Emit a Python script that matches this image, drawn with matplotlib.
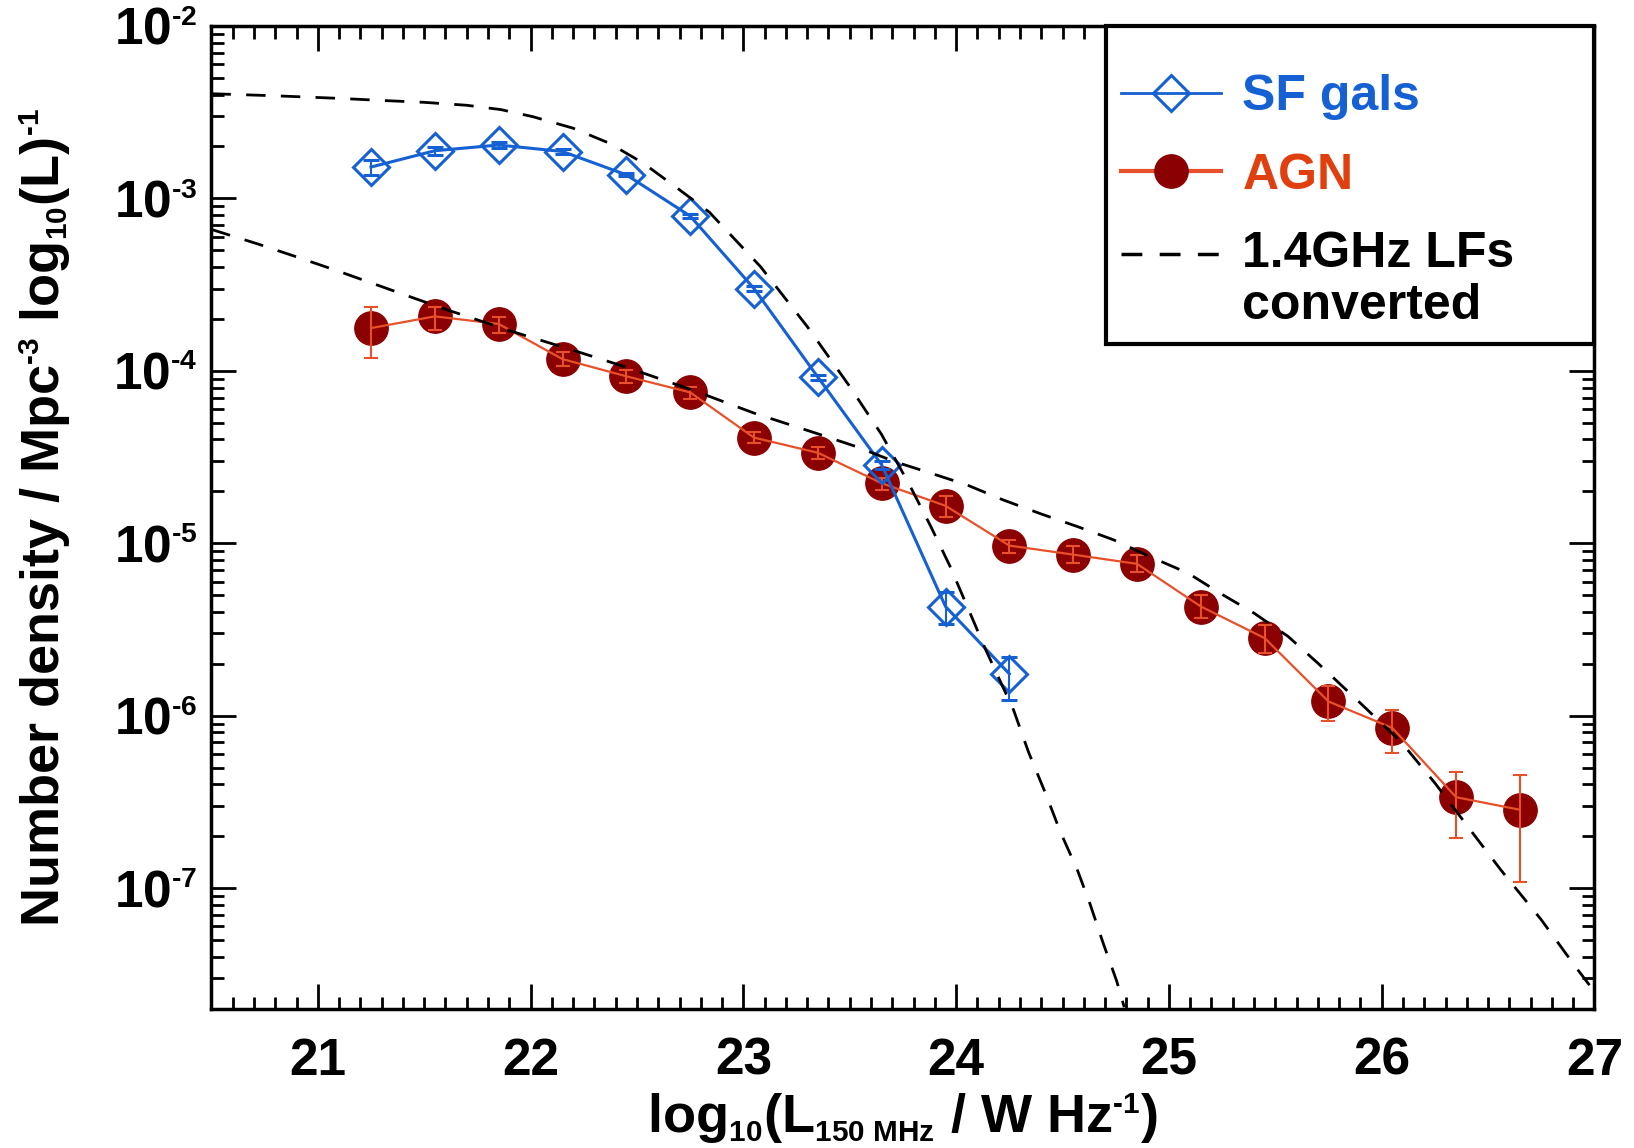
import matplotlib
matplotlib.use("Agg")
import matplotlib.pyplot as plt
import matplotlib._mathtext as mt
import numpy as np
from matplotlib.lines import Line2D
from matplotlib.ticker import MultipleLocator, LogLocator, FuncFormatter, NullFormatter

# smaller super/subscripts, closer to the IDL look
mt.SHRINK_FACTOR = 0.55

plt.rcParams["font.family"] = "Liberation Sans"
plt.rcParams["font.weight"] = "bold"
plt.rcParams["axes.labelweight"] = "bold"
plt.rcParams["mathtext.fontset"] = "custom"
for k in ("rm", "it", "bf", "sf"):
    plt.rcParams["mathtext." + k] = "Liberation Sans:bold"
plt.rcParams["mathtext.default"] = "rm"

# star-forming galaxies
sf_x = [21.25, 21.55, 21.85, 22.15, 22.45, 22.75, 23.05, 23.35, 23.65, 23.95, 24.25]
sf_phi = [1.52e-3, 1.89e-3, 2.04e-3, 1.87e-3, 1.37e-3, 7.9e-4, 3.0e-4, 9.2e-5, 2.85e-5, 4.3e-6, 1.75e-6]
sf_lo = [1.37e-3, 1.79e-3, 1.97e-3, 1.81e-3, 1.34e-3, 7.7e-4, 2.9e-4, 8.9e-5, 2.7e-5, 3.4e-6, 1.24e-6]
sf_hi = [1.67e-3, 1.99e-3, 2.11e-3, 1.93e-3, 1.40e-3, 8.1e-4, 3.1e-4, 9.5e-5, 3.0e-5, 5.2e-6, 2.19e-6]

# radio-loud AGN
agn_x = [21.25, 21.55, 21.85, 22.15, 22.45, 22.75, 23.05, 23.35, 23.65, 23.95,
         24.25, 24.55, 24.85, 25.15, 25.45, 25.75, 26.05, 26.35, 26.65]
agn_phi = [1.77e-4, 2.07e-4, 1.87e-4, 1.17e-4, 9.3e-5, 7.5e-5, 4.1e-5, 3.35e-5, 2.23e-5, 1.65e-5,
           9.7e-6, 8.6e-6, 7.6e-6, 4.3e-6, 2.82e-6, 1.21e-6, 8.5e-7, 3.37e-7, 2.85e-7]
agn_lo = [1.18e-4, 1.73e-4, 1.66e-4, 1.06e-4, 8.5e-5, 6.9e-5, 3.8e-5, 3.1e-5, 2.05e-5, 1.43e-5,
          8.75e-6, 7.7e-6, 6.8e-6, 3.7e-6, 2.31e-6, 9.3e-7, 6.1e-7, 1.95e-7, 1.09e-7]
agn_hi = [2.34e-4, 2.36e-4, 2.04e-4, 1.28e-4, 1.01e-4, 8.1e-5, 4.4e-5, 3.6e-5, 2.4e-5, 1.87e-5,
          1.04e-5, 9.6e-6, 8.5e-6, 5.0e-6, 3.37e-6, 1.48e-6, 1.08e-6, 4.75e-7, 4.54e-7]

# 1.4 GHz luminosity functions shifted to 150 MHz (log10 phi)
sf_lf_x = [20.5, 20.8, 21.1, 21.3, 21.5, 21.7, 21.86, 22.01, 22.2, 22.37, 22.53, 22.69, 22.84,
           23.08, 23.3, 23.5, 23.65, 23.78, 23.88, 23.97, 24.05, 24.14, 24.27, 24.34,
           24.42, 24.49, 24.57, 24.63, 24.69, 24.755, 24.79]
sf_lf_log = [-2.393, -2.405, -2.42, -2.432, -2.443, -2.46, -2.485, -2.526, -2.593, -2.68, -2.796,
             -2.941, -3.08, -3.395, -3.743, -4.091, -4.37, -4.66, -4.9, -5.13, -5.36,
             -5.62, -5.967, -6.21, -6.45, -6.674, -6.895, -7.094, -7.315, -7.54, -7.69]
agn_lf_x = [20.5, 20.72, 20.89, 21.08, 21.24, 21.41, 21.6, 21.94, 22.17, 22.44, 22.76,
            23.05, 23.34, 23.53, 23.71, 23.88, 24.05, 24.22, 24.4, 24.57, 24.74, 24.91,
            25.09, 25.24, 25.4, 25.56, 25.7, 25.9, 26.09, 26.25, 26.44, 26.56, 26.75,
            26.91, 27.0]
agn_lf_log = [-3.18, -3.265, -3.335, -3.415, -3.485, -3.56, -3.643, -3.782, -3.869,
              -3.975, -4.111, -4.245, -4.361, -4.439, -4.526, -4.593, -4.661, -4.748,
              -4.83, -4.903, -4.98, -5.077, -5.173, -5.289, -5.405, -5.54, -5.695,
              -5.927, -6.15, -6.39, -6.7, -6.894, -7.183, -7.454, -7.6]

sf_col = "#1560d2"
agn_line = "#e8502a"
agn_fill = "#8b0000"

fig = plt.figure(figsize=(16.34, 11.48), dpi=100)
ax = fig.add_axes([0.1294, 0.1213, 0.8464, 0.8561])

# AGN: filled circles under the line and error bars
ax.plot(agn_x, agn_phi, "o", ms=24, mfc=agn_fill, mec=agn_fill, zorder=2)
agn_err = [np.array(agn_phi) - np.array(agn_lo), np.array(agn_hi) - np.array(agn_phi)]
ax.errorbar(agn_x, agn_phi, yerr=agn_err, color=agn_line, lw=1.6, elinewidth=1.5,
            capsize=5, capthick=1.5, zorder=3)

sf_err = [np.array(sf_phi) - np.array(sf_lo), np.array(sf_hi) - np.array(sf_phi)]
ax.errorbar(sf_x, sf_phi, yerr=sf_err, color=sf_col, lw=2.2, elinewidth=1.5,
            capsize=6, capthick=1.5, marker="D", ms=18.5, mfc="none", mec=sf_col,
            mew=2.2, zorder=4)

ax.plot(sf_lf_x, 10 ** np.array(sf_lf_log), color="k", lw=2, dashes=(7, 5.5), zorder=5)
ax.plot(agn_lf_x, 10 ** np.array(agn_lf_log), color="k", lw=2, dashes=(7, 5.5), zorder=5)

ax.set_yscale("log")
ax.set_xlim(20.5, 27)
ax.set_ylim(2e-8, 1e-2)

ax.xaxis.set_major_locator(MultipleLocator(1))
ax.xaxis.set_minor_locator(MultipleLocator(0.1))
ax.yaxis.set_major_locator(LogLocator(base=10, numticks=20))
ax.yaxis.set_minor_locator(LogLocator(base=10, subs=np.arange(2, 10), numticks=20))
ax.yaxis.set_minor_formatter(NullFormatter())
ax.yaxis.set_major_formatter(
    FuncFormatter(lambda v, p: r"$10^{\text{-%d}}$" % -round(np.log10(v))))

ax.tick_params(which="both", direction="in", top=True, right=True, width=2)
ax.tick_params(which="major", length=18)
ax.tick_params(which="minor", length=9)
ax.tick_params(axis="x", labelsize=37, pad=20)
ax.tick_params(axis="y", labelsize=37, pad=10)
for s in ax.spines.values():
    s.set_linewidth(2.5)

ax.set_xlabel(r"log$_{10}$(L$_{\text{150 MHz}}$ / W Hz$^{\text{-1}}$)", fontsize=39)
ax.set_ylabel(r"Number density / Mpc$^{\text{-3}}$ log$_{10}$(L)$^{\text{-1}}$", fontsize=39)
ax.xaxis.set_label_coords(0.5, -0.084)
ax.yaxis.set_label_coords(-0.1, 0.5)

handles = [
    Line2D([], [], color=sf_col, lw=2, marker="D", ms=18.5, mfc="none", mec=sf_col, mew=2.2),
    Line2D([], [], color=agn_line, lw=3, marker="o", ms=24, mfc=agn_fill, mec=agn_fill),
    Line2D([], [], color="k", lw=2.5, dashes=(6, 5)),
]
# box spans from x=0.647 to the right spine; a blank title gives the extra top margin
leg = ax.legend(handles, ["SF gals", "AGN", "1.4GHz LFs\nconverted"], loc="upper left",
                bbox_to_anchor=(0.647, 0, 0.353, 1), mode="expand", borderaxespad=0,
                fontsize=36, fancybox=False, edgecolor="k", framealpha=1,
                handlelength=2.0, handletextpad=0.42, borderpad=0.3,
                labelspacing=0.65, title=" ", title_fontsize=1)
leg.get_frame().set_linewidth(3)
for t, c in zip(leg.get_texts(), [sf_col, "#e04010", "k"]):
    t.set_color(c)
leg.get_texts()[2].set_linespacing(1.15)
# dashes sit level with the first line of the two-line label
lf_handle = leg.legend_handles[2]
lf_handle.set_ydata(np.asarray(lf_handle.get_ydata()) + 19)

fig.savefig("out.png", dpi=100)
